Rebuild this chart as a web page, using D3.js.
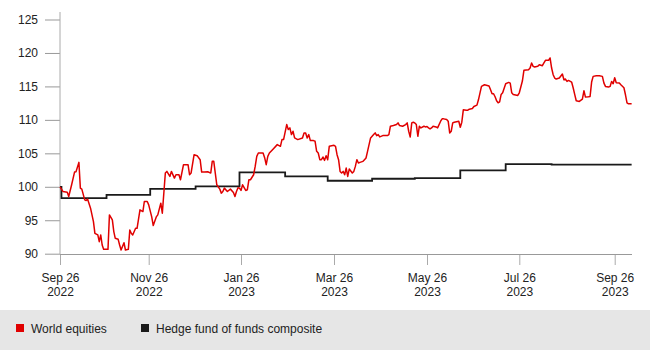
<!DOCTYPE html>
<html>
<head>
<meta charset="utf-8">
<script src="https://cdn.jsdelivr.net/npm/d3@7"></script>
<style>
  html, body { margin: 0; padding: 0; background: #fff; }
  svg { display: block; }
  text { font-family: "Liberation Sans", Arial, Helvetica, sans-serif; }
</style>
</head>
<body>
<svg id="chart" width="650" height="350"></svg>
<script>
// ---------------- DATA ----------------
const startDate = "2022-09-26";

// World equities: days since startDate and index values
const equityDays = [0,2,5,6,8,10,11,13,14,15,17,18,19,21,23,24,26,27,28,29,30,33,34,36,37,38,40,41,42,44,45,47,48,49,50,52,53,55,57,58,60,
  61,63,64,66,67,69,70,72,73,75,76,78,79,81,82,84,87,88,89,91,93,95,96,98,100,102,103,104,106,108,109,110,111,113,115,117,118,119,120,121,
  122,123,125,126,127,128,130,131,132,133,136,137,138,139,140,142,145,147,148,149,151,152,153,154,155,156,158,161,162,163,164,165,166,168,169,170,171,172,173,174,175,176,177,178,
  181,182,183,184,185,186,187,188,189,190,191,193,194,195,196,197,198,200,201,202,203,205,207,208,209,210,211,213,216,217,218,220,222,223,224,226,228,229,230,231,232,233,234,235,236,237,238,240,241,
  242,243,244,245,246,248,249,251,252,253,255,256,257,258,259,260,263,264,265,266,268,269,270,272,273,275,276,277,278,280,283,284,285,286,287,288,289,290,291,292,294,296,297,298,299,302,
  303,305,306,309,310,311,312,313,315,316,318,319,320,322,323,324,325,326,327,329,331,332,333,334,335,337,338,339,340,342,344,345,346,348,349,350,351,353,355,357,358,359,361,362,363,364,365,366,368,369,371,372,373,374,376];
const equityValues = [100.0,99.3,99.2,98.55,100.3,102.2,102.25,103.65,99.8,99.65,98.05,97.95,98.15,96.8,94.8,93.05,92.8,91.8,92.8,91.3,90.65,90.65,95.8,95.05,93.3,92.3,92.15,91.3,90.55,91.65,90.55,90.65,93.55,93.05,92.8,93.8,93.8,96.55,96.3,97.8,97.8,
  97.3,95.5,94.2,95.5,95.8,97.55,96.05,102.05,102.3,101.55,102.3,101.3,101.8,101.8,101.05,103.3,103.3,101.8,102.05,104.8,104.65,104.05,102.2,102.2,102.25,102.05,103.8,103.8,100.3,99.65,99.05,99.3,99.8,99.3,99.65,99.15,98.55,99.3,99.85,99.8,
  99.45,100.3,99.45,99.55,101.05,101.05,101.8,103.05,104.55,105.05,105.05,104.35,103.3,104.55,105.05,105.55,106.3,106.05,107.05,107.05,109.3,108.55,108.8,107.8,108.3,107.3,107.05,107.3,108.05,108.05,107.3,107.8,106.9,106.9,106.8,105.3,105.05,104.05,104.05,104.45,103.95,104.65,104.05,106.05,
  106.2,106.05,104.8,104.05,102.3,102.05,102.3,101.8,102.8,101.55,102.65,102.05,102.3,103.05,104.05,103.55,103.65,103.8,104.05,104.3,105.3,107.3,107.8,108.05,107.65,107.8,107.45,107.65,107.65,107.8,109.05,109.15,109.3,109.55,109.15,109.05,109.3,109.55,108.3,107.45,109.55,109.65,109.55,109.3,107.55,109.05,108.8,109.05,108.95,
  109.0,108.8,108.65,108.8,109.05,108.95,108.8,109.8,110.15,110.15,110.05,109.8,108.05,108.3,109.55,109.65,109.8,108.9,109.65,111.5,111.45,111.45,111.6,111.7,112.0,112.2,113.0,114.0,115.0,115.25,115.05,114.5,113.9,113.9,113.45,112.85,112.55,112.7,113.8,114.05,115.4,115.6,115.5,114.05,113.8,113.65,
  114.05,115.8,117.4,117.5,117.75,118.5,118.0,117.9,118.0,118.25,118.1,118.5,118.9,118.9,119.25,117.75,116.75,116.25,116.1,116.25,116.85,116.0,116.1,115.75,115.9,115.65,114.8,113.8,112.85,112.75,113.1,114.35,113.4,113.45,113.5,115.65,116.5,116.6,116.6,116.5,115.5,115.0,114.9,115.0,115.75,115.4,116.3,115.55,115.5,115.25,114.8,113.75,112.55,112.4,112.4];

// Hedge fund of funds composite (monthly steps)
const hedgeDays   = [0, 1, 32, 62, 92, 121, 150, 177, 206, 234, 264, 294, 324, 376];
const hedgeValues = [100, 98.3, 98.8, 99.7, 100.05, 102.15, 101.55, 100.9, 101.2, 101.3, 102.45, 103.4, 103.3, 103.3];

// Axis ticks
const xTickDates = ["2022-09-26","2022-11-26","2023-01-26","2023-03-26","2023-05-26","2023-07-26","2023-09-26"];
const xTickPos   = [60, 148.7, 241, 334, 427, 519.3, 614.7];
const yTicks = [90, 95, 100, 105, 110, 115, 120, 125];

const seriesNames  = ["World equities", "Hedge fund of funds composite"];
const seriesColors = ["#e00000", "#1a1a1a"];

// ---------------- CHART ----------------
const parse = d3.timeParse("%Y-%m-%d");
const start = parse(startDate);
const toDate = n => d3.timeDay.offset(start, n);

const equity = equityDays.map((d, i) => ({ date: toDate(d), value: equityValues[i] }));
const hedge  = hedgeDays.map((d, i) => ({ date: toDate(d), value: hedgeValues[i] }));

const svg = d3.select("#chart");
const plotTop = 12, plotBottom = 254, plotLeft = 60, plotRight = 632;

const x = d3.scaleTime()
  .domain(xTickDates.map(parse))
  .range(xTickPos);

const y = d3.scaleLinear().domain([90, 125]).range([253.7, 19.5]);

// legend band
svg.append("rect").attr("x", 0).attr("y", 310).attr("width", 650).attr("height", 40).attr("fill", "#e6e6e6");

// Y axis
const yAxis = svg.append("g")
  .attr("transform", `translate(${plotLeft},0)`)
  .call(d3.axisLeft(y).tickValues(yTicks).tickSize(15).tickPadding(7).tickSizeOuter(0));
yAxis.select(".domain").remove();
yAxis.selectAll(".tick line").attr("stroke", "#999");
yAxis.selectAll(".tick text").attr("fill", "#222").style("font-size", "12px");
svg.append("line").attr("x1", plotLeft).attr("x2", plotLeft).attr("y1", plotTop).attr("y2", plotBottom)
  .attr("stroke", "#aaa").attr("stroke-width", 1);

// X axis
const fmtMD = d3.timeFormat("%b %-d"), fmtY = d3.timeFormat("%Y");
const xAxis = svg.append("g")
  .attr("transform", `translate(0,${plotBottom})`)
  .call(d3.axisBottom(x).tickValues(xTickDates.map(parse)).tickSize(11).tickSizeOuter(0).tickFormat(""));
xAxis.select(".domain").remove();
xAxis.selectAll(".tick line").attr("stroke", "#aaa");
xAxis.selectAll(".tick").each(function(d) {
  const t = d3.select(this).append("text").attr("fill", "#222").attr("text-anchor", "middle").style("font-size", "12px");
  t.append("tspan").attr("x", 0).attr("y", 27.5).text(fmtMD(d));
  t.append("tspan").attr("x", 0).attr("y", 41.5).text(fmtY(d));
});
svg.append("line").attr("x1", plotLeft).attr("x2", plotRight).attr("y1", plotBottom + 0.5).attr("y2", plotBottom + 0.5)
  .attr("stroke", "#999").attr("stroke-width", 1);

// Lines
const lineStep = d3.line().x(d => x(d.date)).y(d => y(d.value)).curve(d3.curveStepAfter);
const lineLin  = d3.line().x(d => x(d.date)).y(d => y(d.value));

svg.append("path").datum(hedge).attr("d", lineStep)
  .attr("fill", "none").attr("stroke", seriesColors[1]).attr("stroke-width", 1.8);
svg.append("path").datum(equity).attr("d", lineLin)
  .attr("fill", "none").attr("stroke", seriesColors[0]).attr("stroke-width", 1.5).attr("stroke-linejoin", "round");

// Legend
const legendX = [16, 141];
seriesNames.forEach((name, i) => {
  const g = svg.append("g").attr("transform", `translate(${legendX[i]},324)`);
  g.append("rect").attr("width", 8).attr("height", 8).attr("fill", seriesColors[i]);
  g.append("text").attr("x", 15).attr("y", 8.5).attr("fill", "#222").style("font-size", "12px").text(name);
});
</script>
</body>
</html>
